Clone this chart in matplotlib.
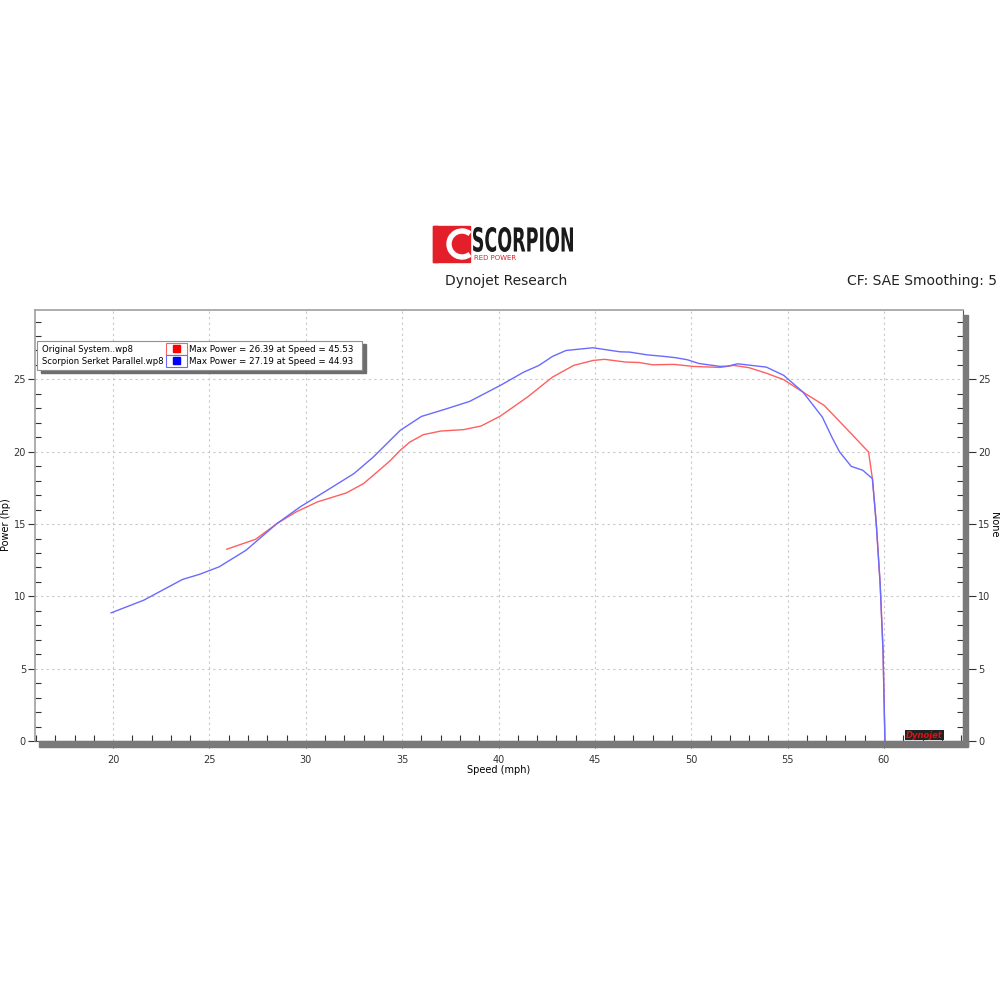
import matplotlib
matplotlib.use("Agg")
import matplotlib.pyplot as plt
from matplotlib.patches import Rectangle, Wedge
from matplotlib.textpath import TextPath
from matplotlib.font_manager import FontProperties
from matplotlib.patches import PathPatch
from matplotlib.transforms import Affine2D
from matplotlib.ticker import MultipleLocator

# run data
orig_speed = [25.9, 27.4, 28.5, 29.5, 30.6, 32.1, 33.0, 34.0, 34.4, 34.9, 35.4, 36.1,
              37.0, 38.2, 39.1, 40.1, 41.5, 42.8, 43.9, 44.9, 45.5, 46.6, 47.3, 48.0,
              49.1, 50.1, 51.5, 52.2, 53.0, 53.9, 54.8, 55.8, 56.9, 58.3, 59.2, 59.4,
              59.6, 59.8, 59.95, 60.05]
orig_power = [13.26, 13.95, 15.03, 15.84, 16.53, 17.15, 17.80, 18.94, 19.41, 20.10, 20.67, 21.18,
              21.43, 21.53, 21.78, 22.47, 23.78, 25.16, 25.97, 26.31, 26.39, 26.20, 26.17, 26.01,
              26.04, 25.90, 25.83, 25.97, 25.81, 25.43, 24.98, 24.12, 23.20, 21.25, 19.98, 18.14,
              15.03, 10.89, 6.28, 0.0]

scorp_speed = [19.9, 21.6, 23.6, 24.5, 25.5, 26.9, 28.5, 29.7, 31.1, 32.5, 33.5, 34.9,
               36.0, 37.3, 38.5, 40.1, 41.3, 42.1, 42.8, 43.5, 44.9, 45.6, 46.3, 46.8,
               47.7, 48.6, 49.2, 49.8, 50.4, 51.5, 51.9, 52.4, 53.9, 54.8, 55.8, 56.8,
               57.3, 57.7, 58.3, 58.9, 59.4, 59.6, 59.8, 59.95, 60.05]
scorp_power = [8.86, 9.74, 11.17, 11.53, 12.04, 13.19, 15.03, 16.18, 17.33, 18.49, 19.63, 21.48,
               22.44, 22.97, 23.48, 24.59, 25.50, 25.97, 26.59, 27.00, 27.19, 27.05, 26.91, 26.89,
               26.70, 26.59, 26.50, 26.36, 26.10, 25.90, 25.92, 26.08, 25.85, 25.28, 24.12, 22.40,
               21.0, 19.98, 18.99, 18.72, 18.14, 15.03, 10.89, 6.28, 0.0]

run_names = ["Original System..wp8", "Scorpion Serket Parallel.wp8"]
run_notes = ["Max Power = 26.39 at Speed = 45.53", "Max Power = 27.19 at Speed = 44.93"]
run_colors = ["#ff5f5f", "#6a6aff"]
marker_colors = ["#ff0000", "#0000ff"]


def px(x, y):
    # figure pixel -> figure fraction
    return x / 1000, 1 - y / 1000


fig = plt.figure(figsize=(10, 10), dpi=100)
fig.patch.set_facecolor("white")

ax = fig.add_axes([0.035, 0.259, 0.928, 0.431])
ax.plot(orig_speed, orig_power, color=run_colors[0], lw=1.0)
ax.plot(scorp_speed, scorp_power, color=run_colors[1], lw=1.0)
ax.set_xlim(15.95, 64.1)
ax.set_ylim(0, 29.8)

ax.xaxis.set_minor_locator(MultipleLocator(1))
ax.yaxis.set_major_locator(MultipleLocator(5))
ax.yaxis.set_minor_locator(MultipleLocator(1))
ax.set_xticks(range(20, 61, 5))
ax.grid(True, which="major", color="#c8c8c8", ls=(0, (2, 3)), lw=0.8)
ax.tick_params(which="major", direction="out", length=5, width=0.8, labelsize=7,
               colors="#333333", pad=1.5)
ax.tick_params(axis="x", which="major", pad=5)
ax.tick_params(which="minor", direction="in", length=4, width=0.8, colors="#333333")
for s in ["top", "left"]:
    ax.spines[s].set_color("#a0a0a0")
    ax.spines[s].set_linewidth(1.2)
ax.spines["bottom"].set_color("#555555")
ax.spines["right"].set_color("#555555")
ax.set_xlabel("Speed (mph)", fontsize=7, labelpad=0)

# right hand axis
ax2 = ax.twinx()
ax2.set_ylim(ax.get_ylim())
ax2.yaxis.set_major_locator(MultipleLocator(5))
ax2.yaxis.set_minor_locator(MultipleLocator(1))
ax2.tick_params(which="major", direction="out", length=9, width=0.8, labelsize=7,
                colors="#333333", pad=2)
ax2.tick_params(which="minor", direction="in", length=4, width=0.8, colors="#333333")
for s in ax2.spines.values():
    s.set_visible(False)

fig.text(*px(6, 525), "Power (hp)", fontsize=7, rotation=90, ha="center", va="center")
fig.text(*px(994, 525), "None", fontsize=7, rotation=-90, ha="center", va="center")

# 3D shadow bars below and right of the plot frame
fig.patches.append(Rectangle(px(39, 747), 0.929, 0.006, transform=fig.transFigure,
                             color="#7a7a7a", zorder=0))
fig.patches.append(Rectangle(px(963, 746), 0.005, 0.431, transform=fig.transFigure,
                             color="#7a7a7a", zorder=0))

# legend box
fig.patches.append(Rectangle(px(41, 373), 0.325, 0.029, transform=fig.transFigure,
                             color="#6e6e6e", zorder=5))
fig.patches.append(Rectangle(px(37, 370), 0.325, 0.029, transform=fig.transFigure,
                             facecolor="white", edgecolor="#909090", lw=0.8, zorder=6))
for i in range(2):
    yy = 349 + 12 * i
    fig.text(*px(42, yy), run_names[i], fontsize=6.1, va="center", zorder=7)
    fig.patches.append(Rectangle(px(166, yy + 6), 0.021, 0.012, transform=fig.transFigure,
                                 facecolor="white", edgecolor=run_colors[i], lw=0.8, zorder=7))
    fig.patches.append(Rectangle(px(173, yy + 3), 0.007, 0.007, transform=fig.transFigure,
                                 color=marker_colors[i], zorder=8))
    fig.text(*px(189, yy), run_notes[i], fontsize=6.3, va="center", zorder=7)

# header
fig.text(*px(445, 281), "Dynojet Research", fontsize=10, va="center", color="#222222")
fig.text(*px(997, 281), "CF: SAE Smoothing: 5", fontsize=10, va="center", ha="right",
         color="#222222")

# Scorpion logo
lax = fig.add_axes([0.428, 1 - 0.268, 0.152, 0.048])
lax.set_xlim(428, 580)
lax.set_ylim(268, 220)
lax.axis("off")
lax.add_patch(Rectangle((433, 226), 37, 36, color="#e3202a"))
lax.add_patch(Wedge((462, 244), 15, 55, 305, width=4, color="white"))
lax.add_patch(Rectangle((433, 226), 5, 36, color="#e3202a"))
tp = TextPath((0, 0), "SCORPION", prop=FontProperties(family="DejaVu Sans", weight="bold"))
bb = tp.get_extents()
tr = Affine2D().translate(-bb.x0, -bb.y0).scale(100 / bb.width, -25 / bb.height).translate(473, 252)
lax.add_patch(PathPatch(tr.transform_path(tp), color="#1a1a1a", lw=0))
lax.text(474, 258.5, "RED POWER", fontsize=5, color="#e3202a", va="center")

# Dynojet badge
fig.text(*px(906, 735), "Dynojet", fontsize=6, color="#e01010", fontweight="bold",
         style="italic", va="center",
         bbox=dict(facecolor="#222222", edgecolor="none", pad=0.6))

fig.savefig("out.png", dpi=100)
